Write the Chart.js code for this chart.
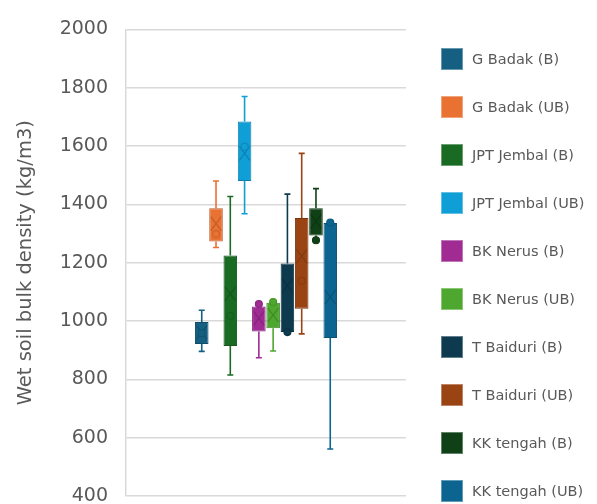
<!DOCTYPE html>
<html>
<head>
<meta charset="utf-8">
<script src="https://cdn.jsdelivr.net/npm/chart.js@4.4.1/dist/chart.umd.min.js"></script>
<style>
    html, body { margin: 0; padding: 0; overflow: hidden; background: #fff; }
    #caixa { position: relative; width: 597px; height: 560px; }
    #legenda { position: absolute; left: 441px; top: 48px; margin: 0; padding: 0; list-style: none; }
    #legenda li { display: flex; align-items: center; height: 22px; margin-bottom: 26px;
        font-family: 'DejaVu Sans', sans-serif; font-size: 14.5px; color: #595959; white-space: nowrap; }
    #legenda span.quadrado { display: inline-block; width: 20px; height: 20px; margin-right: 9px; }
</style>
</head>
<body>
<div id="caixa">
    <canvas id="graficoDensidade"></canvas>
    <ul id="legenda"></ul>
</div>
<script>
// DADOS
const series = ["G Badak (B)", "G Badak (UB)", "JPT Jembal (B)", "JPT Jembal (UB)", "BK Nerus (B)",
    "BK Nerus (UB)", "T Baiduri (B)", "T Baiduri (UB)", "KK tengah (B)", "KK tengah (UB)"];
const minimos  = [896, 1252, 815, 1368, 874, 897, 960, 956, 1273, 561];
const quartil1 = [921, 1273, 914, 1480, 964, 975, 962, 1042, 1293, 942];
const medianas = [958, 1298, 1018, 1598, 1058, 1065, 962, 1138, 1277, 1338];
const quartil3 = [997, 1387, 1225, 1684, 1050, 1063, 1197, 1353, 1387, 1336];
const maximos  = [1037, 1480, 1427, 1770, 1058, 1066, 1435, 1575, 1454, 1340];
const medias   = [961, 1334, 1093, 1575, 1009, 1020, 1121, 1222, 1342, 1082];
const marcasY  = [400, 600, 800, 1000, 1200, 1400, 1600, 1800, 2000];

const cores = ["#156082", "#E97132", "#196B24", "#0F9ED5", "#A02B93",
    "#4EA72E", "#0D3A4E", "#9A4414", "#0F4016", "#0C6590"];

// FUNCOES
function escurecer(hex, f) {
    const n = parseInt(hex.slice(1), 16);
    const r = Math.round(((n >> 16) & 255) * f);
    const g = Math.round(((n >> 8) & 255) * f);
    const b = Math.round((n & 255) * f);
    return 'rgb(' + r + ',' + g + ',' + b + ')';
}

function clarear(hex, f) {
    const n = parseInt(hex.slice(1), 16);
    const c = [(n >> 16) & 255, (n >> 8) & 255, n & 255].map(v => Math.round(v + (255 - v) * f));
    return 'rgb(' + c.join(',') + ')';
}

const pluginCaixas = {
    id: 'caixas',
    beforeDatasetsDraw(chart) {
        const ctx = chart.ctx;
        const y = chart.scales.y;
        chart.data.datasets.forEach((ds, i) => {
            const barra = chart.getDatasetMeta(i).data[0];
            const x = barra.x;
            const tampa = 3;
            const yMax = y.getPixelForValue(maximos[i]);
            const yMin = y.getPixelForValue(minimos[i]);
            ctx.save();
            ctx.strokeStyle = cores[i];
            ctx.lineWidth = 1.6;
            ctx.beginPath();
            ctx.moveTo(x, yMax);
            ctx.lineTo(x, y.getPixelForValue(quartil3[i]));
            ctx.moveTo(x, y.getPixelForValue(quartil1[i]));
            ctx.lineTo(x, yMin);
            ctx.moveTo(x - tampa, yMax);
            ctx.lineTo(x + tampa, yMax);
            ctx.moveTo(x - tampa, yMin);
            ctx.lineTo(x + tampa, yMin);
            ctx.stroke();
            ctx.restore();
        });
    },
    afterDatasetsDraw(chart) {
        const ctx = chart.ctx;
        const y = chart.scales.y;
        chart.data.datasets.forEach((ds, i) => {
            const barra = chart.getDatasetMeta(i).data[0];
            const x = barra.x;
            ctx.save();
            ctx.strokeStyle = escurecer(cores[i], 0.82);
            ctx.lineWidth = 1.1;
            // media (X)
            const ym = y.getPixelForValue(medias[i]);
            const dx = barra.width / 2 - 1.5, dy = 7;
            ctx.beginPath();
            ctx.moveTo(x - dx, ym - dy);
            ctx.lineTo(x + dx, ym + dy);
            ctx.moveTo(x + dx, ym - dy);
            ctx.lineTo(x - dx, ym + dy);
            ctx.stroke();
            // ponto interno
            const yp = y.getPixelForValue(medianas[i]);
            ctx.fillStyle = cores[i];
            ctx.strokeStyle = escurecer(cores[i], 0.88);
            ctx.beginPath();
            ctx.arc(x, yp, 3.5, 0, Math.PI * 2);
            ctx.fill();
            ctx.stroke();
            ctx.restore();
        });
    }
};

function montarLegenda(chart) {
    const lista = document.getElementById('legenda');
    lista.innerHTML = '';
    chart.data.datasets.forEach((ds) => {
        const li = document.createElement('li');
        const q = document.createElement('span');
        q.className = 'quadrado';
        q.style.background = ds.backgroundColor;
        q.style.border = '1px solid ' + ds.legendaBorda;
        li.appendChild(q);
        li.appendChild(document.createTextNode(ds.label));
        lista.appendChild(li);
    });
}

function montarGraficoDensidade() {
    const ctx = document.getElementById('graficoDensidade').getContext('2d');

    const grafico = new Chart(ctx, {
        type: 'bar',
        data: {
            labels: [''],
            datasets: series.map((nome, i) => ({
                label: nome,
                data: [[quartil1[i], quartil3[i]]],
                backgroundColor: cores[i],
                borderColor: escurecer(cores[i], 0.8),
                legendaBorda: clarear(cores[i], 0.35),
                borderWidth: 1,
                borderSkipped: false,
                barPercentage: 0.95,
                categoryPercentage: 0.51
            }))
        },
        options: {
            responsive: true,
            maintainAspectRatio: false,
            animation: false,
            layout: { padding: { top: 21, right: 191, bottom: 0, left: 0 } },
            plugins: {
                tooltip: { enabled: false },
                legend: { display: false }
            },
            scales: {
                x: {
                    type: 'category',
                    grid: { display: false },
                    border: { display: false },
                    ticks: { display: false },
                    afterFit: (s) => { s.height = 64; }
                },
                y: {
                    min: 400,
                    max: 2000,
                    afterBuildTicks: (s) => { s.ticks = marcasY.map(v => ({ value: v })); },
                    afterFit: (s) => { s.width = 126; },
                    grid: { color: '#D9D9D9', lineWidth: 1.5, drawTicks: false },
                    border: { color: '#D9D9D9', width: 1.5 },
                    ticks: {
                        padding: 18,
                        color: '#595959',
                        font: { family: 'DejaVu Sans', size: 19 },
                        callback: (v) => String(v)
                    },
                    title: {
                        display: true,
                        text: 'Wet soil bulk density (kg/m3)',
                        color: '#595959',
                        font: { family: 'DejaVu Sans', size: 19.5 },
                        padding: { top: 14, bottom: 0 }
                    }
                }
            }
        },
        plugins: [pluginCaixas]
    });
    montarLegenda(grafico);
}

montarGraficoDensidade();
</script>
</body>
</html>
